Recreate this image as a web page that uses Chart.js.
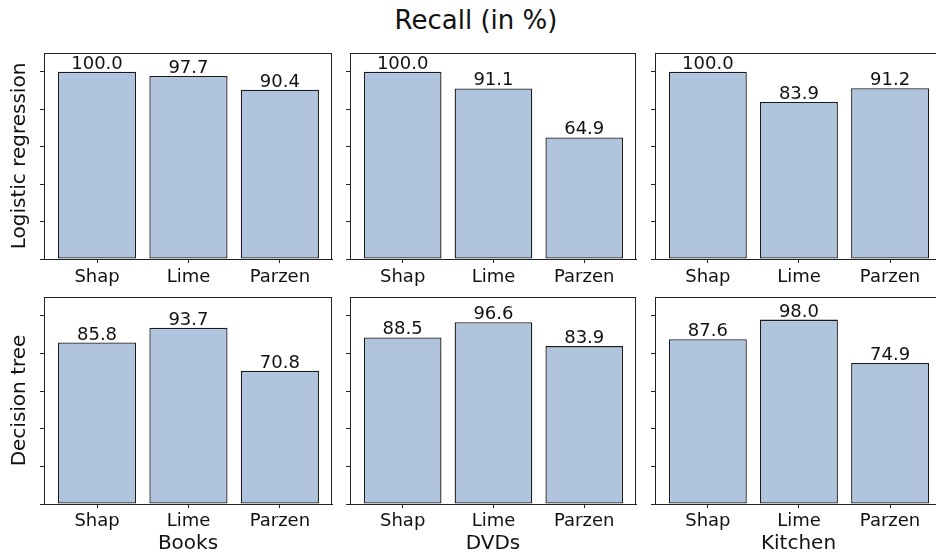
<!DOCTYPE html>
<html>
<head>
<meta charset="utf-8">
<script src="https://cdn.jsdelivr.net/npm/chart.js@4.4.1/dist/chart.umd.min.js"></script>
<style>
body{margin:0;width:936px;height:558px;overflow:hidden;background:#fff;position:relative;font-family:"DejaVu Sans"}
canvas{position:absolute}
#title{position:absolute;left:0;width:952px;top:7px;text-align:center;font-size:26px;line-height:26px;color:#111}
</style>
</head>
<body>
<div id="title">Recall (in %)</div>
<script>
const methods = ['Shap', 'Lime', 'Parzen'];
const domains = ['Books', 'DVDs', 'Kitchen'];
const models = ['Logistic regression', 'Decision tree'];
// recall per domain, order = methods
const lrBooks = [100.0, 97.7, 90.4];
const lrDvds = [100.0, 91.1, 64.9];
const lrKitchen = [100.0, 83.9, 91.2];
const dtBooks = [85.8, 93.7, 70.8];
const dtDvds = [88.5, 96.6, 83.9];
const dtKitchen = [87.6, 98.0, 74.9];
const yTicks = [0, 20, 40, 60, 80, 100];

const rows = [[lrBooks, lrDvds, lrKitchen], [dtBooks, dtDvds, dtKitchen]];

// panel boxes in page pixels
const panelLeft = [44, 350, 655];
const panelRight = [332, 636, 942];
const panelTop = [53, 297];
const panelBottom = [259, 504];

const font = '"DejaVu Sans"';

const barLabels = {
    id: 'barLabels',
    afterDatasetsDraw(chart) {
        const ctx = chart.ctx;
        const meta = chart.getDatasetMeta(0);
        ctx.save();
        ctx.font = '18px ' + font;
        ctx.fillStyle = '#111';
        ctx.textAlign = 'center';
        ctx.textBaseline = 'alphabetic';
        meta.data.forEach((bar, i) => {
            ctx.fillText(chart.data.datasets[0].data[i].y.toFixed(1), bar.x, bar.y - 3);
        });
        ctx.restore();
    }
};
const frame = {
    id: 'frame',
    afterDraw(chart) {
        const a = chart.chartArea;
        const ctx = chart.ctx;
        ctx.save();
        ctx.strokeStyle = '#222';
        ctx.lineWidth = 1;
        ctx.strokeRect(a.left + 0.5, a.top + 0.5, a.right - a.left - 1, a.bottom - a.top);
        ctx.restore();
    }
};

function makePanel(r, c) {
    const vals = rows[r][c];
    const yw = c == 0 ? 44 : 6;
    const xh = r == 0 ? 30 : 558 - panelBottom[1];
    const cv = document.createElement('canvas');
    const w = yw + panelRight[c] - panelLeft[c] + 2;
    const h = 4 + panelBottom[r] - panelTop[r] + xh;
    cv.width = w; cv.height = h;
    cv.style.left = (panelLeft[c] - yw) + 'px';
    cv.style.top = (panelTop[r] - 4) + 'px';
    cv.style.width = w + 'px'; cv.style.height = h + 'px';
    document.body.appendChild(cv);

    new Chart(cv, {
        type: 'bar',
        data: {
            datasets: [{
                data: methods.map((m, i) => ({x: i, y: vals[i]})),
                backgroundColor: '#b0c4de',
                borderColor: '#1a1a1a',
                borderWidth: 1.3,
                borderSkipped: false,
                categoryPercentage: 1,
                barPercentage: 0.855
            }]
        },
        options: {
            responsive: false,
            animation: false,
            layout: {padding: {top: 4, right: 2, left: 0, bottom: 0}},
            plugins: {legend: {display: false}, tooltip: {enabled: false}},
            scales: {
                x: {
                    type: 'linear',
                    offset: false,
                    min: -0.58, max: 2.57,
                    afterBuildTicks: s => { s.ticks = methods.map((m, i) => ({value: i})); },
                    afterFit: s => { s.height = xh; },
                    ticks: {
                        callback: v => methods[v],
                        font: {family: font, size: 18},
                        color: '#111',
                        padding: r == 0 ? 3.5 : 3,
                        maxRotation: 0,
                        autoSkip: false
                    },
                    grid: {offset: false, drawOnChartArea: false, drawTicks: true, tickLength: 4, tickColor: '#222'},
                    border: {display: true, color: '#222', width: 1},
                    title: {
                        display: r == 1,
                        text: domains[c],
                        font: {family: font, size: 20},
                        color: '#111',
                        padding: {top: 0, bottom: 2}
                    }
                },
                y: {
                    min: 0, max: 110,
                    afterBuildTicks: s => { s.ticks = yTicks.map(v => ({value: v})); },
                    afterFit: s => { s.width = yw; },
                    ticks: {display: false},
                    grid: {drawOnChartArea: false, drawTicks: true, tickLength: 4, tickColor: '#222'},
                    border: {display: true, color: '#222', width: 1},
                    title: {
                        display: c == 0,
                        text: models[r],
                        font: {family: font, size: 20},
                        color: '#111',
                        padding: {top: 8, bottom: 0}
                    }
                }
            }
        },
        plugins: [barLabels, frame]
    });
}

for (let r = 0; r < 2; r++) {
    for (let c = 0; c < 3; c++) makePanel(r, c);
}
</script>
</body>
</html>
